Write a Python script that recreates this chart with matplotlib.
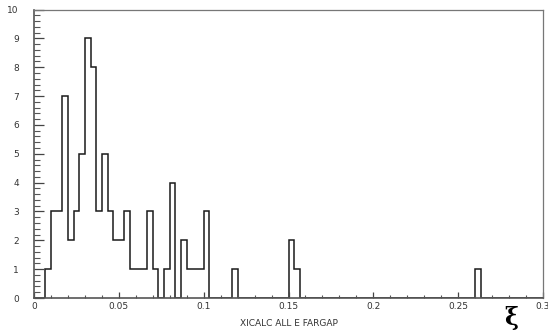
import numpy as np
import matplotlib
matplotlib.use("Agg")
import matplotlib.pyplot as plt
from matplotlib.ticker import MultipleLocator

# Histogram data: 90 bins of width 1/300 between 0 and 0.3
x_min = 0.0
x_max = 0.3
n_bins = 90
counts = [
    0, 0, 1, 3, 3, 7, 2, 3, 5, 9,
    8, 3, 5, 3, 2, 2, 3, 1, 1, 1,
    3, 1, 0, 1, 4, 0, 2, 1, 1, 1,
    3, 0, 0, 0, 0, 1, 0, 0, 0, 0,
    0, 0, 0, 0, 0, 2, 1, 0, 0, 0,
    0, 0, 0, 0, 0, 0, 0, 0, 0, 0,
    0, 0, 0, 0, 0, 0, 0, 0, 0, 0,
    0, 0, 0, 0, 0, 0, 0, 0, 1, 0,
    0, 0, 0, 0, 0, 0, 0, 0, 0, 0,
]
x_ticks = [0, 0.05, 0.1, 0.15, 0.2, 0.25, 0.3]
x_tick_labels = ["0", "0.05", "0.1", "0.15", "0.2", "0.25", "0.3"]
y_ticks = list(range(0, 11))
x_label = "XICALC ALL E FARGAP"
symbol = "ξ"

edges = np.linspace(x_min, x_max, n_bins + 1)

fig = plt.figure(figsize=(5.48, 3.34), dpi=100)
ax = fig.add_axes([34 / 548, 1 - 298 / 334, (543 - 34) / 548, (298 - 9.5) / 334])

ax.stairs(counts, edges, color="#1a1a1a", linewidth=1.1, baseline=0)

ax.set_xlim(x_min, x_max)
ax.set_ylim(0, 10)
ax.set_xticks(x_ticks)
ax.set_xticklabels(x_tick_labels)
ax.set_yticks(y_ticks)
ax.xaxis.set_minor_locator(MultipleLocator(0.01))
ax.yaxis.set_minor_locator(MultipleLocator(0.2))

ax.tick_params(axis="y", which="major", direction="in", length=7, width=0.9,
               color="#444444", labelsize=6.5, labelcolor="#333333", pad=11)
ax.tick_params(axis="y", which="minor", direction="in", length=4, width=0.8,
               color="#555555")
ax.tick_params(axis="x", which="major", direction="in", length=4, width=0.9,
               color="#444444", labelsize=6.5, labelcolor="#333333", pad=3)
ax.tick_params(axis="x", which="minor", direction="in", length=2, width=0.8,
               color="#555555")
ax.tick_params(top=False, right=False, which="both")

for side in ["left", "bottom"]:
    ax.spines[side].set_color("#555555")
    ax.spines[side].set_linewidth(1.2)
for side in ["top", "right"]:
    ax.spines[side].set_color("#777777")
    ax.spines[side].set_linewidth(0.9)

ax.set_xlabel(x_label, fontsize=6.5, color="#333333", labelpad=6)

fig.text(511 / 548, 1 - 318 / 334, symbol, fontsize=17, fontweight="bold",
         family="DejaVu Serif", ha="center", va="center", color="black")

fig.savefig("out.png", dpi=100)
